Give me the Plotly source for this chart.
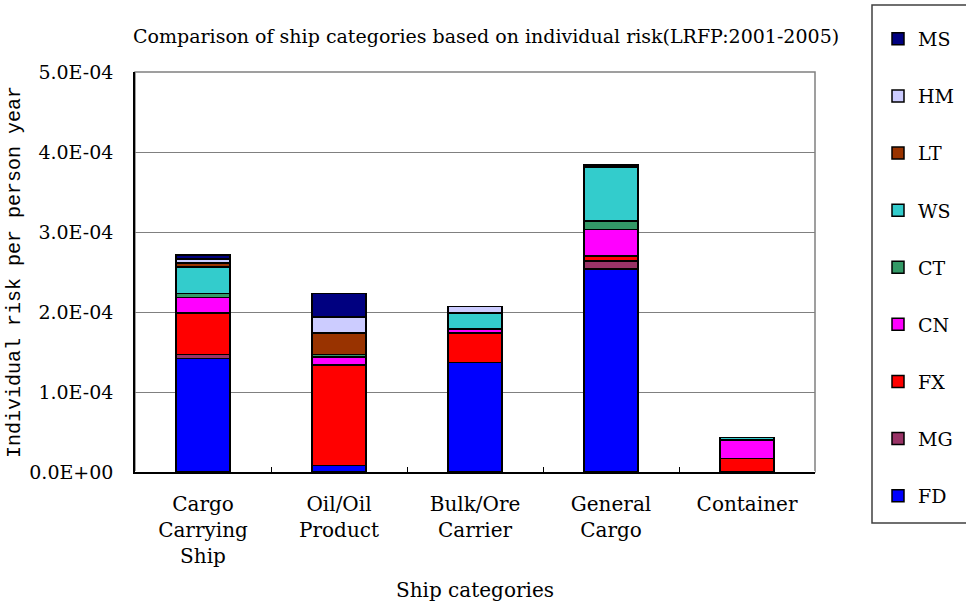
import plotly.graph_objects as go

categories = ["Cargo<br>Carrying<br>Ship", "Oil/Oil<br>Product", "Bulk/Ore<br>Carrier", "General<br>Cargo", "Container"]

# Individual risk per person year, stacked components (bottom to top)
FD = [1.42e-4, 0.08e-4, 1.37e-4, 2.54e-4, 0.0]
MG = [0.05e-4, 0.0, 0.0, 0.10e-4, 0.0]
FX = [0.52e-4, 1.26e-4, 0.37e-4, 0.06e-4, 0.17e-4]
CN = [0.19e-4, 0.10e-4, 0.05e-4, 0.33e-4, 0.23e-4]
CT = [0.05e-4, 0.03e-4, 0.0, 0.11e-4, 0.0]
WS = [0.33e-4, 0.0, 0.20e-4, 0.67e-4, 0.03e-4]
LT = [0.05e-4, 0.27e-4, 0.0, 0.01e-4, 0.0]
HM = [0.05e-4, 0.20e-4, 0.08e-4, 0.0, 0.0]
MS = [0.05e-4, 0.29e-4, 0.0, 0.02e-4, 0.0]

series = [
    ("FD", FD, "#0000FF"),
    ("MG", MG, "#993366"),
    ("FX", FX, "#FF0000"),
    ("CN", CN, "#FF00FF"),
    ("CT", CT, "#339966"),
    ("WS", WS, "#33CCCC"),
    ("LT", LT, "#993300"),
    ("HM", HM, "#CCCCFF"),
    ("MS", MS, "#000080"),
]

ytickvals = [0, 1e-4, 2e-4, 3e-4, 4e-4, 5e-4]
yticktext = ["0.0E+00", "1.0E-04", "2.0E-04", "3.0E-04", "4.0E-04", "5.0E-04"]

serif = "DejaVu Serif"

fig = go.Figure()
n = len(series)
for i, (name, vals, color) in enumerate(series):
    fig.add_trace(go.Bar(
        x=categories, y=vals, name=name, legendgroup=name,
        legendrank=n - i,
        marker=dict(color=color, line=dict(color="black", width=1.5)),
    ))

W, H = 966, 602
L, R, T, B = 135, 815, 72, 472
pw, ph = R - L, B - T

def px(x):
    return (x - L) / pw

def py(y):
    return (B - y) / ph

fig.update_layout(
    width=W, height=H,
    margin=dict(l=L, r=W - R, t=T, b=H - B, autoexpand=False),
    barmode="stack", bargap=0.6,
    plot_bgcolor="white", paper_bgcolor="white",
    font=dict(family=serif, size=19, color="black"),
    title=dict(
        text="Comparison of ship categories based on individual risk(LRFP:2001-2005)",
        xref="container", yref="container", x=133 / W, xanchor="left",
        y=1 - 36 / H, yanchor="middle", automargin=False,
        font=dict(family=serif, size=19, color="black"),
    ),
    legend=dict(
        traceorder="grouped", tracegroupgap=29.4,
        xref="container", yref="container",
        x=878 / W, xanchor="left", y=1 - 20 / H, yanchor="top",
        font=dict(family=serif, size=19, color="black"),
        bgcolor="rgba(0,0,0,0)", borderwidth=0, maxheight=1.0,
    ),
    showlegend=True,
    xaxis=dict(
        showline=True, linecolor="black", linewidth=1.5, automargin=False,
        ticks="inside", tickson="boundaries", ticklen=5, tickcolor="black",
        ticklabelstandoff=13, tickfont=dict(family=serif, size=20),
        title=dict(text="Ship categories", standoff=18,
                   font=dict(family=serif, size=20)),
        showgrid=False,
    ),
    yaxis=dict(
        range=[0, 5e-4], tickvals=ytickvals, ticktext=yticktext,
        showline=True, linecolor="black", linewidth=1.5, automargin=False,
        showgrid=True, gridcolor="#808080", gridwidth=1,
        ticks="", ticklabelstandoff=16, tickfont=dict(family=serif, size=19),
        title=dict(text="Individual risk per person year", standoff=3,
                   font=dict(family="Liberation Mono", size=20)),
    ),
    shapes=[
        dict(type="rect", xref="paper", yref="paper", x0=0, y0=0, x1=1, y1=1,
             line=dict(color="#808080", width=1.5), layer="below"),
        dict(type="rect", xref="paper", yref="paper",
             x0=px(872), x1=px(980), y0=py(523), y1=py(5),
             line=dict(color="#404040", width=1.5), layer="above"),
    ],
)

fig.write_html("out.html")
